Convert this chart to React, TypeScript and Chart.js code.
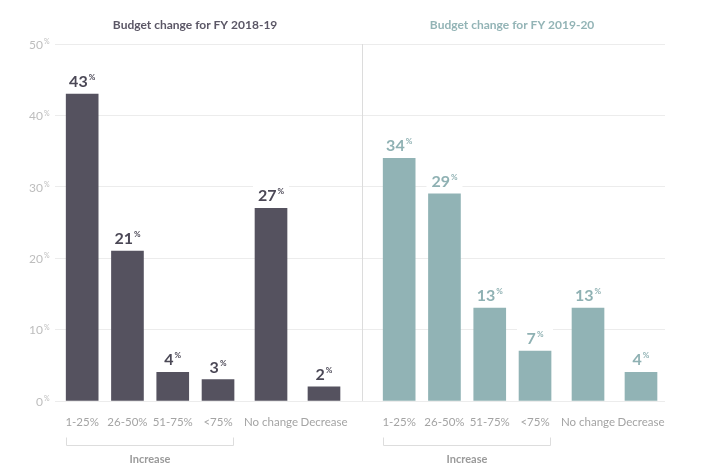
import React, { useEffect, useRef } from "react";
import { Chart, registerables } from "chart.js";

Chart.register(...registerables);

const categories = ["1-25%", "26-50%", "51-75%", "<75%", "No change", "Decrease"];
const fy1819 = [43, 21, 4, 3, 27, 2];
const fy1920 = [34, 29, 13, 7, 13, 4];
const yTicks = [0, 10, 20, 30, 40, 50];
const groupTitles = ["Budget change for FY 2018-19", "Budget change for FY 2019-20"];
const groupLabel = "Increase";
const increaseCount = 4;

const COLORS = ["#55525f", "#91b3b5"];
const TITLE_COLORS = ["#5b5766", "#93b4b6"];
const LABEL_COLORS = ["#4b4856", "#8fb1b3"];
const FONT = "Lato, 'Open Sans', sans-serif";

const GROUP_OFFSET = 7;
const EXTRA_GAP = 0.17;
const slotPos = (g: number, i: number) =>
  g * GROUP_OFFSET + i + (i >= increaseCount ? (i - increaseCount + 1) * EXTRA_GAP : 0);

const series = [fy1819, fy1920];

export default function App() {
  const ref = useRef<HTMLCanvasElement>(null);
  useEffect(() => {
    if (!ref.current) return;

    const overlay = {
      id: "overlay",
      beforeDatasetsDraw(chart: any) {
        const ctx = chart.ctx;
        const x = chart.scales.x;
        const y = chart.scales.y;
        const area = chart.chartArea;
        ctx.save();
        const dx = Math.round(x.getPixelForValue((slotPos(0, 5) + slotPos(1, 0)) / 2)) + 0.5;
        ctx.strokeStyle = "#dcdcdc";
        ctx.lineWidth = 1;
        ctx.beginPath();
        ctx.moveTo(dx, area.top);
        ctx.lineTo(dx, area.bottom);
        ctx.stroke();
        series.forEach((vals, g) => {
          vals.forEach((v, i) => {
            const cx = x.getPixelForValue(slotPos(g, i));
            const top = y.getPixelForValue(v);
            ctx.fillStyle = "#ffffff";
            ctx.fillRect(cx - 18, top - 24, 36, 22);
          });
        });
        ctx.restore();
      },
      afterDatasetsDraw(chart: any) {
        const ctx = chart.ctx;
        const x = chart.scales.x;
        const y = chart.scales.y;
        const area = chart.chartArea;
        ctx.save();
        yTicks.forEach((t) => {
          const py = y.getPixelForValue(t);
          ctx.font = `12px ${FONT}`;
          ctx.fillStyle = "#bdbdbd";
          ctx.textAlign = "right";
          ctx.textBaseline = "middle";
          ctx.fillText(String(t), area.left - 12, py + 1);
          ctx.font = `7px ${FONT}`;
          ctx.textAlign = "left";
          ctx.fillText("%", area.left - 11, py - 2);
        });
        series.forEach((vals, g) => {
          const c0 = x.getPixelForValue(slotPos(g, 0));
          const c5 = x.getPixelForValue(slotPos(g, 5));
          const mid = (c0 + c5) / 2;
          ctx.font = `bold 12px ${FONT}`;
          ctx.fillStyle = TITLE_COLORS[g];
          ctx.textAlign = "center";
          ctx.textBaseline = "middle";
          ctx.fillText(groupTitles[g], mid - 8, 25);
          vals.forEach((v, i) => {
            const cx = x.getPixelForValue(slotPos(g, i));
            const top = y.getPixelForValue(v);
            const num = String(v);
            ctx.font = `bold 16px ${FONT}`;
            const w1 = ctx.measureText(num).width;
            ctx.font = `bold 8px ${FONT}`;
            const w2 = ctx.measureText("%").width;
            const start = cx - (w1 + w2 + 1) / 2;
            ctx.textAlign = "left";
            ctx.textBaseline = "alphabetic";
            ctx.fillStyle = LABEL_COLORS[g];
            ctx.font = `bold 16px ${FONT}`;
            ctx.fillText(num, start, top - 7);
            ctx.font = `bold 8px ${FONT}`;
            ctx.fillText("%", start + w1 + 1, top - 14);
            ctx.font = `11.5px ${FONT}`;
            ctx.fillStyle = "#a4a4a4";
            ctx.textAlign = "center";
            ctx.textBaseline = "middle";
            ctx.fillText(categories[i], cx, area.bottom + 21);
          });
          const half = 16;
          const bl = Math.round(x.getPixelForValue(slotPos(g, 0)) - half) + 0.5;
          const br = Math.round(x.getPixelForValue(slotPos(g, increaseCount - 1)) + half) - 0.5;
          const by = area.bottom + 44.5;
          ctx.strokeStyle = "#dddddd";
          ctx.lineWidth = 1;
          ctx.beginPath();
          ctx.moveTo(bl, by - 8);
          ctx.lineTo(bl, by);
          ctx.lineTo(br, by);
          ctx.lineTo(br, by - 8);
          ctx.stroke();
          ctx.font = `bold 11px ${FONT}`;
          ctx.fillStyle = "#9a9a9a";
          ctx.textAlign = "center";
          ctx.textBaseline = "middle";
          ctx.fillText(groupLabel, (bl + br) / 2, area.bottom + 58);
        });
        ctx.restore();
      },
    };

    const chart = new Chart(ref.current, {
      type: "bar",
      data: {
        datasets: series.map((vals, g) => ({
          label: groupTitles[g],
          data: vals.map((v, i) => ({ x: slotPos(g, i), y: v })),
          backgroundColor: COLORS[g],
          barThickness: 32,
          grouped: false,
        })),
      },
      options: {
        animation: false,
        responsive: false,
        maintainAspectRatio: false,
        layout: { padding: { left: 55, right: 38, top: 44, bottom: 68 } },
        plugins: { legend: { display: false }, tooltip: { enabled: false }, title: { display: false } },
        scales: {
          x: {
            type: "linear",
            min: -0.6,
            max: 12.87,
            offset: false,
            display: false,
          },
          y: {
            min: 0,
            max: 50,
            ticks: { display: false, stepSize: 10 },
            grid: { color: "#ececec", drawTicks: false },
            border: { display: false },
          },
        },
      },
      plugins: [overlay],
    } as any);
    return () => chart.destroy();
  }, []);

  return (
    <div style={{ position: "fixed", left: 0, top: 0, width: 703, height: 469, background: "#fff" }}>
      <canvas ref={ref} width={703} height={469} style={{ width: 703, height: 469, display: "block" }} />
    </div>
  );
}
